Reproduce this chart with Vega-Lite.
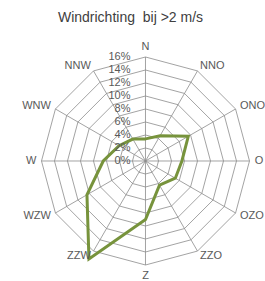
{
  "$schema": "https://vega.github.io/schema/vega-lite/v6.json",
  "width": 265,
  "height": 251,
  "autosize": {"type": "none"},
  "padding": {"left": 0, "top": 30, "right": 0, "bottom": 0},
  "background": "white",
  "title": {"text": "Windrichting\u00a0 bij >2 m/s", "font": "Liberation Sans", "fontSize": 14, "fontWeight": "normal", "color": "#404040", "anchor": "middle", "offset": 5, "dx": -2},
  "config": {"view": {"stroke": null}},
  "datasets": {
    "wind": [
      {"richting": "N", "aandeel": 0.034},
      {"richting": "NNO", "aandeel": 0.045},
      {"richting": "ONO", "aandeel": 0.076},
      {"richting": "O", "aandeel": 0.056},
      {"richting": "OZO", "aandeel": 0.053},
      {"richting": "ZZO", "aandeel": 0.043},
      {"richting": "Z", "aandeel": 0.090},
      {"richting": "ZZW", "aandeel": 0.174},
      {"richting": "WZW", "aandeel": 0.104},
      {"richting": "W", "aandeel": 0.065},
      {"richting": "WNW", "aandeel": 0.047},
      {"richting": "NNW", "aandeel": 0.039}
    ],
    "ringen": [
      {"ring": 0}, {"ring": 0.02}, {"ring": 0.04}, {"ring": 0.06}, {"ring": 0.08},
      {"ring": 0.10}, {"ring": 0.12}, {"ring": 0.14}, {"ring": 0.16}
    ]
  },
  "layer": [
    {
      "data": {"name": "ringen"},
      "mark": {"type": "point", "shape": "M0,-1L0.5,-0.866L0.866,-0.5L1,0L0.866,0.5L0.5,0.866L0,1L-0.5,0.866L-0.866,0.5L-1,0L-0.866,-0.5L-0.5,-0.866Z", "filled": false, "color": "#8c8c8c", "strokeWidth": 0.8, "opacity": 1},
      "encoding": {
        "x": {"datum": 0, "type": "quantitative", "scale": {"domain": [-0.22385, 0.18385], "nice": false, "zero": false}, "axis": null},
        "y": {"datum": 0, "type": "quantitative", "scale": {"domain": [-0.18462, 0.20154], "nice": false, "zero": false}, "axis": null},
        "size": {"field": "ring", "type": "quantitative", "scale": {"type": "pow", "exponent": 2, "domain": [0, 0.16], "range": [0, 43264]}, "legend": null}
      }
    },
    {
      "data": {"name": "wind"},
      "transform": [
        {"window": [{"op": "row_number", "as": "nr"}]},
        {"calculate": "(datum.nr - 1) * PI / 6", "as": "hoek"},
        {"calculate": "datum.aandeel * sin(datum.hoek)", "as": "px"},
        {"calculate": "datum.aandeel * cos(datum.hoek)", "as": "py"},
        {"calculate": "0.16 * sin(datum.hoek)", "as": "sx"},
        {"calculate": "0.16 * cos(datum.hoek)", "as": "sy"},
        {"calculate": "0.168 * sin(datum.hoek)", "as": "lx"},
        {"calculate": "0.168 * cos(datum.hoek)", "as": "ly"}
      ],
      "layer": [
        {
          "mark": {"type": "rule", "color": "#8c8c8c", "strokeWidth": 0.8},
          "encoding": {
            "x": {"field": "sx", "type": "quantitative", "scale": {"domain": [-0.22385, 0.18385], "nice": false, "zero": false}, "axis": null},
            "y": {"field": "sy", "type": "quantitative", "scale": {"domain": [-0.18462, 0.20154], "nice": false, "zero": false}, "axis": null},
            "x2": {"datum": 0},
            "y2": {"datum": 0}
          }
        },
        {
          "mark": {"type": "line", "interpolate": "linear-closed", "color": "#77933C", "strokeWidth": 3},
          "encoding": {
            "x": {"field": "px", "type": "quantitative", "scale": {"domain": [-0.22385, 0.18385], "nice": false, "zero": false}, "axis": null},
            "y": {"field": "py", "type": "quantitative", "scale": {"domain": [-0.18462, 0.20154], "nice": false, "zero": false}, "axis": null},
            "order": {"field": "nr", "type": "quantitative"}
          }
        },
        {
          "transform": [{"filter": "datum.nr >= 2 && datum.nr <= 6"}],
          "mark": {"type": "text", "align": "left", "baseline": "middle", "font": "Liberation Sans", "fontSize": 11, "color": "#595959"},
          "encoding": {
            "x": {"field": "lx", "type": "quantitative", "scale": {"domain": [-0.22385, 0.18385], "nice": false, "zero": false}, "axis": null},
            "y": {"field": "ly", "type": "quantitative", "scale": {"domain": [-0.18462, 0.20154], "nice": false, "zero": false}, "axis": null},
            "text": {"field": "richting"}
          }
        },
        {
          "transform": [{"filter": "datum.nr >= 8"}],
          "mark": {"type": "text", "align": "right", "baseline": "middle", "font": "Liberation Sans", "fontSize": 11, "color": "#595959"},
          "encoding": {
            "x": {"field": "lx", "type": "quantitative", "scale": {"domain": [-0.22385, 0.18385], "nice": false, "zero": false}, "axis": null},
            "y": {"field": "ly", "type": "quantitative", "scale": {"domain": [-0.18462, 0.20154], "nice": false, "zero": false}, "axis": null},
            "text": {"field": "richting"}
          }
        },
        {
          "transform": [{"filter": "datum.nr == 1"}],
          "mark": {"type": "text", "align": "center", "baseline": "bottom", "font": "Liberation Sans", "fontSize": 11, "color": "#595959"},
          "encoding": {
            "x": {"field": "lx", "type": "quantitative", "scale": {"domain": [-0.22385, 0.18385], "nice": false, "zero": false}, "axis": null},
            "y": {"field": "ly", "type": "quantitative", "scale": {"domain": [-0.18462, 0.20154], "nice": false, "zero": false}, "axis": null},
            "text": {"field": "richting"}
          }
        },
        {
          "transform": [{"filter": "datum.nr == 7"}],
          "mark": {"type": "text", "align": "center", "baseline": "top", "font": "Liberation Sans", "fontSize": 11, "color": "#595959"},
          "encoding": {
            "x": {"field": "lx", "type": "quantitative", "scale": {"domain": [-0.22385, 0.18385], "nice": false, "zero": false}, "axis": null},
            "y": {"field": "ly", "type": "quantitative", "scale": {"domain": [-0.18462, 0.20154], "nice": false, "zero": false}, "axis": null},
            "text": {"field": "richting"}
          }
        }
      ]
    },
    {
      "data": {"name": "ringen"},
      "mark": {"type": "text", "align": "right", "baseline": "middle", "dx": -15, "font": "Liberation Sans", "fontSize": 11, "color": "#595959"},
      "encoding": {
        "x": {"datum": 0, "type": "quantitative", "scale": {"domain": [-0.22385, 0.18385], "nice": false, "zero": false}, "axis": null},
        "y": {"field": "ring", "type": "quantitative", "scale": {"domain": [-0.18462, 0.20154], "nice": false, "zero": false}, "axis": null},
        "text": {"field": "ring", "type": "quantitative", "format": ".0%"}
      }
    }
  ]
}
